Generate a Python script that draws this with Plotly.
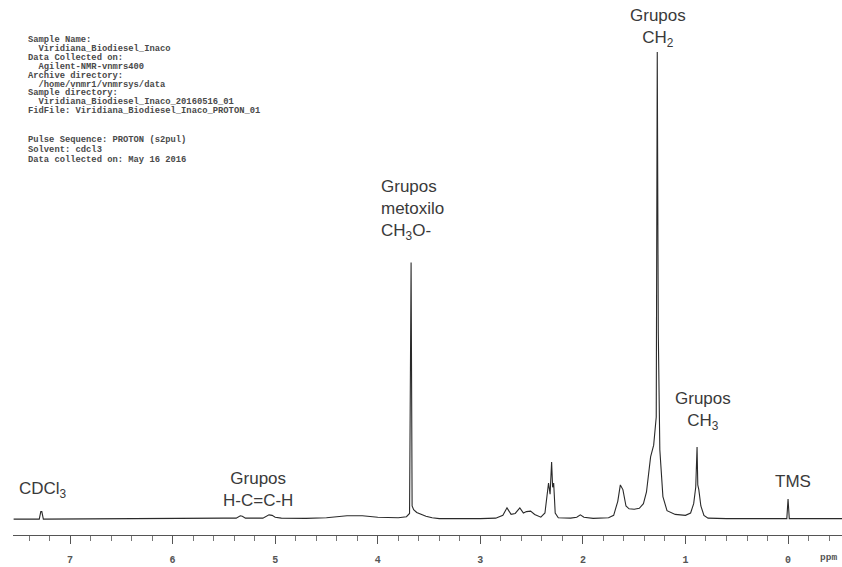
import plotly.graph_objects as go

# Spectrum: chemical shift (ppm) and relative intensity (CH2 peak = 100)
ppm = [7.55, 7.30, 7.285, 7.275, 7.26, 7.0, 6.5, 6.0, 5.5, 5.38, 5.34, 5.32, 5.29, 5.12, 5.06, 5.03, 5.00, 4.94,
       4.7, 4.5, 4.3, 4.15, 4.0, 3.80, 3.72, 3.69, 3.675, 3.665, 3.65, 3.62, 3.58, 3.53, 3.47, 3.4, 3.0,
       2.85, 2.78, 2.74, 2.70, 2.66, 2.615, 2.58, 2.55, 2.51, 2.47, 2.41, 2.37, 2.335, 2.32, 2.305, 2.295, 2.285,
       2.27, 2.24, 2.12, 2.06, 2.025, 1.99, 1.9, 1.75, 1.70, 1.66, 1.635, 1.61, 1.58, 1.55, 1.50, 1.45,
       1.41, 1.38, 1.34, 1.31, 1.285, 1.275, 1.265, 1.25, 1.22, 1.18, 1.10, 1.00, 0.95, 0.92, 0.90, 0.887,
       0.88, 0.87, 0.85, 0.82, 0.78, 0.6, 0.3, 0.012, 0.0, -0.012, -0.3, -0.526]
intensity = [0.2, 0.2, 1.8, 1.8, 0.2, 0.25, 0.3, 0.3, 0.4, 0.4, 0.9, 0.8, 0.4, 0.4, 1.1, 1.0, 0.6, 0.4,
             0.35, 0.5, 0.9, 0.9, 0.6, 0.5, 0.7, 1.4, 55.0, 3.0, 2.2, 1.6, 1.2, 0.8, 0.5, 0.3, 0.3,
             0.4, 1.0, 2.6, 1.2, 1.4, 2.6, 1.5, 1.8, 1.9, 1.2, 0.6, 1.5, 7.9, 5.5, 12.4, 7.0, 7.9,
             1.5, 0.5, 0.4, 0.6, 1.1, 0.6, 0.35, 0.5, 1.0, 4.0, 7.5, 6.5, 3.0, 2.4, 2.3, 2.5,
             3.5, 6.0, 13.5, 16.0, 22.0, 100.0, 40.0, 15.0, 5.0, 2.0, 1.2, 1.0, 1.5, 3.5, 7.0, 15.6,
             7.5, 6.5, 3.0, 1.0, 0.4, 0.3, 0.3, 0.3, 4.5, 0.3, 0.3, 0.3]

tick_values = [7, 6, 5, 4, 3, 2, 1, 0]
tick_labels = ["7", "6", "5", "4", "3", "2", "1", "0"]

header_lines = [
    "Sample Name:",
    "  Viridiana_Biodiesel_Inaco",
    "Data Collected on:",
    "  Agilent-NMR-vnmrs400",
    "Archive directory:",
    "  /home/vnmr1/vnmrsys/data",
    "Sample directory:",
    "  Viridiana_Biodiesel_Inaco_20160516_01",
    "FidFile: Viridiana_Biodiesel_Inaco_PROTON_01",
    "",
    "Pulse Sequence: PROTON (s2pul)",
    "Solvent: cdcl3",
    "Data collected on: May 16 2016",
]
header_y_px = [40, 48.9, 57.8, 66.7, 75.6, 84.5, 93.4, 102.3, 111.2, 120, 140, 150, 160]

# peak labels: (text, ppm position, paper y of top, xanchor, align)
labels = [
    ("Grupos<br>CH<sub>2</sub>", 1.27, 0.993, "center", "center"),
    ("Grupos<br>metoxilo<br>CH<sub>3</sub>O-", 3.99, 0.673, "left", "left"),
    ("Grupos<br>CH<sub>3</sub>", 0.83, 0.277, "center", "center"),
    ("TMS", -0.05, 0.122, "center", "center"),
    ("CDCl<sub>3</sub>", 7.26, 0.108, "center", "center"),
    ("Grupos<br>H-C=C-H", 5.17, 0.127, "center", "center"),
]

W, H = 842, 567
plot_l, plot_w, plot_h = 13.0, 829.0, 535.0
mono = "Liberation Mono, Courier New, monospace"

fig = go.Figure()
fig.add_trace(go.Scatter(x=ppm, y=intensity, mode="lines",
                         line=dict(color="#2a2a2a", width=1.1), hoverinfo="skip"))

annotations = []
for text, xp, yp, xa, al in labels:
    annotations.append(dict(text=text, x=xp, xref="x", y=yp, yref="paper",
                            xanchor=xa, yanchor="top", align=al, showarrow=False,
                            font=dict(family="Liberation Sans, Arial, sans-serif", size=17, color="#3a3a3a")))

for txt, py in zip(header_lines, header_y_px):
    if not txt:
        continue
    annotations.append(dict(text=txt.replace(" ", "&nbsp;"), xref="paper", yref="paper",
                            x=(27 - plot_l) / plot_w, y=1 - py / plot_h,
                            xanchor="left", yanchor="middle", showarrow=False, borderpad=0,
                            font=dict(family=mono, size=8.8, color="#4a4a4a", weight="bold")))

annotations.append(dict(text="ppm", xref="paper", yref="paper", x=(828 - plot_l) / plot_w,
                        y=1 - 557 / plot_h, xanchor="center", yanchor="middle", showarrow=False,
                        font=dict(family=mono, size=9.5, color="#555555", weight="bold")))

fig.update_layout(
    width=W, height=H,
    margin=dict(l=13, r=0, t=0, b=32),
    paper_bgcolor="white", plot_bgcolor="white",
    showlegend=False,
    annotations=annotations,
    xaxis=dict(range=[7.556, -0.526], tickvals=tick_values, ticktext=tick_labels,
               ticks="outside", ticklen=8, tickwidth=1, tickcolor="#555555",
               showline=True, linecolor="#555555", linewidth=1,
               showgrid=False, zeroline=False,
               ticklabelstandoff=7,
               tickfont=dict(family=mono, size=10, color="#555555", weight="bold"),
               minor=dict(dtick=0.2, tick0=0, ticks="outside", ticklen=5, tickwidth=1,
                          tickcolor="#777777", showgrid=False)),
    yaxis=dict(range=[-3.2, 111.1], visible=False, showgrid=False, zeroline=False),
)

fig.write_html("out.html", config={"displayModeBar": False},
               post_script="document.body.style.margin='0';document.body.style.overflow='hidden';")
